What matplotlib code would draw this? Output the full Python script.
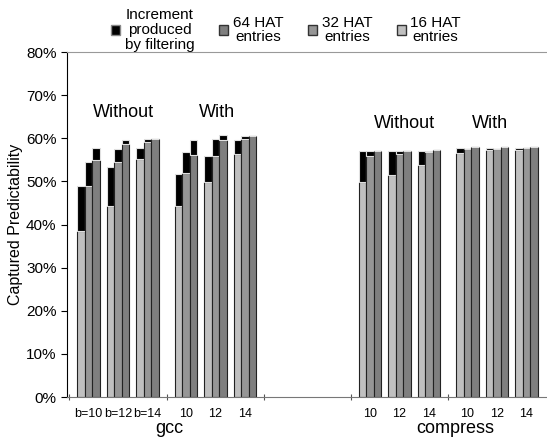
import numpy as np
import matplotlib.pyplot as plt
from matplotlib.patches import Patch

plt.rcParams['font.family'] = ['Liberation Sans', 'DejaVu Sans']

# Captured predictability (%) without filtering (base) and with filtering (top)
# order of groups: gcc-without b=10,12,14 | gcc-with 10,12,14 | compress-without | compress-with
group_labels = ['b=10', 'b=12', 'b=14', '10', '12', '14',
                '10', '12', '14', '10', '12', '14']

base16 = [38.5, 44.3, 55.2, 44.4, 49.8, 56.3, 49.9, 51.6, 53.9, 56.7, 57.3, 57.3]
top16 = [49.0, 53.3, 57.8, 51.8, 55.8, 59.6, 57.1, 57.1, 57.1, 57.8, 57.8, 57.8]
base32 = [48.9, 54.4, 59.1, 51.9, 56.0, 59.8, 55.9, 56.3, 56.8, 57.6, 57.6, 57.7]
top32 = [54.6, 57.6, 59.8, 56.8, 59.8, 60.6, 57.1, 57.1, 57.1, 57.6, 57.6, 57.7]
base64 = [54.9, 58.6, 59.8, 56.2, 59.5, 60.6, 57.0, 57.0, 57.3, 57.9, 57.9, 57.9]
top64 = [57.8, 59.7, 59.8, 59.6, 60.7, 60.6, 57.0, 57.0, 57.3, 57.9, 57.9, 57.9]

# group centre positions: three groups per block, gaps between blocks
block_start = [0, 3.3, 9.54, 12.84]
x = np.array([s + k for s in block_start for k in range(3)])
w = 0.254

c16, c32, c64 = '#c0c0c0', '#969696', '#7f7f7f'

fig = plt.figure(figsize=(5.47, 4.38), dpi=100)
ax = fig.add_axes([0.1225, 0.0936, 0.8775, 0.7874])

for off, base, top, col in [(-w, base16, top16, c16), (0, base32, top32, c32), (w, base64, top64, c64)]:
    base = np.array(base)
    inc = np.array(top) - base
    ax.bar(x + off, base, w, color=col, edgecolor='#222222', linewidth=0.8)
    ax.bar(x + off, inc, w, bottom=base, color='black', edgecolor='#e0e0e0', linewidth=0.8)

ax.set_xlim(-0.73, 15.54)
ax.set_ylim(0, 80)
ax.set_yticks(np.arange(0, 81, 10))
ax.set_yticklabels(['%d%%' % v for v in range(0, 81, 10)], fontsize=11)
ax.set_ylabel('Captured Predictability', fontsize=11.5, labelpad=2)

bounds = [-0.65, 2.65, 5.95, 8.89, 12.19]
ax.set_xticks(bounds)
ax.set_xticklabels([])
ax.tick_params(axis='x', length=4, direction='inout', color='#555555')
ax.tick_params(axis='y', length=4, direction='out')

ax.spines['right'].set_visible(False)
ax.spines['top'].set_color('#999999')
ax.spines['bottom'].set_color('#777777')
ax.spines['left'].set_color('black')

for xi, lab in zip(x, group_labels):
    ax.text(xi, -4.0, lab, ha='center', va='center', fontsize=9)
ax.text(2.73, -7.3, 'gcc', ha='center', va='center', fontsize=13)
ax.text(12.42, -7.3, 'compress', ha='center', va='center', fontsize=13)

ax.text(1.2, 66, 'Without', ha='center', va='center', fontsize=13)
ax.text(4.36, 66, 'With', ha='center', va='center', fontsize=13)
ax.text(10.7, 63.5, 'Without', ha='center', va='center', fontsize=13)
ax.text(13.6, 63.5, 'With', ha='center', va='center', fontsize=13)

handles = [Patch(facecolor='black', edgecolor='#888888'),
           Patch(facecolor=c64, edgecolor='#333333'),
           Patch(facecolor=c32, edgecolor='#333333'),
           Patch(facecolor=c16, edgecolor='#333333')]
labels = ['Increment\nproduced\nby filtering', '64 HAT\nentries', '32 HAT\nentries', '16 HAT\nentries']
leg = fig.legend(handles, labels, ncol=4, frameon=False, fontsize=11,
                 loc='upper left', bbox_to_anchor=(0.178, 1.012),
                 handlelength=0.6, handleheight=0.6, handletextpad=0.3,
                 columnspacing=1.6, labelspacing=0)
for t in leg.get_texts():
    t.set_multialignment('center')
    t.set_linespacing(1.05)

fig.savefig('out.png', dpi=100)
